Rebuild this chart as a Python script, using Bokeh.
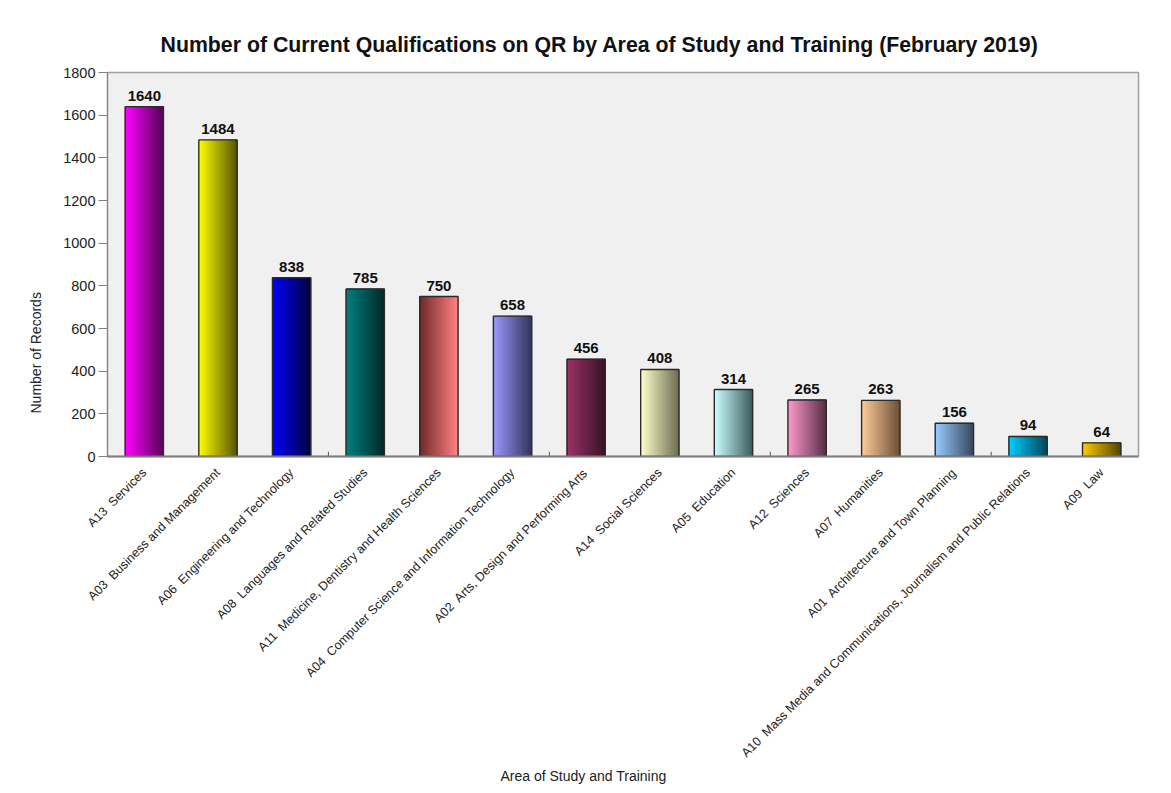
import numpy as np
from bokeh.plotting import figure
from bokeh.models import ColumnDataSource, FactorRange, Title
from bokeh.core.properties import value
from bokeh.embed import file_html
from bokeh.resources import INLINE

NB = "\u00a0"
categories = [
    "A13" + NB + " Services",
    "A03" + NB + " Business and Management",
    "A06" + NB + " Engineering and Technology",
    "A08" + NB + " Languages and Related Studies",
    "A11" + NB + " Medicine, Dentistry and Health Sciences",
    "A04" + NB + " Computer Science and Information Technology",
    "A02" + NB + " Arts, Design and Performing Arts",
    "A14" + NB + " Social Sciences",
    "A05" + NB + " Education",
    "A12" + NB + " Sciences",
    "A07" + NB + " Humanities",
    "A01" + NB + " Architecture and Town Planning",
    "A10" + NB + " Mass Media and Communications, Journalism and Public Relations",
    "A09" + NB + " Law",
]
counts = [1640, 1484, 838, 785, 750, 658, 456, 408, 314, 265, 263, 156, 94, 64]
colors_left = ["#ff00ff", "#ffff00", "#0000ff", "#008080", "#6e2a2a", "#9999ff", "#993366",
               "#ffffcc", "#ccffff", "#ff99cc", "#ffcc99", "#99ccff", "#00ccff", "#ffcc00"]
colors_right = ["#5a005a", "#5a5a00", "#000040", "#002a2a", "#ff8080", "#363660", "#3a1428",
                "#707055", "#406060", "#5a3048", "#705238", "#3a4a60", "#004a60", "#5a4800"]
y_ticks = [0, 200, 400, 600, 800, 1000, 1200, 1400, 1600, 1800]

FONT = "Liberation Sans"

p = figure(x_range=FactorRange(*categories, range_padding=0), y_range=(0, 1800),
           frame_width=1031, frame_height=384, output_backend="svg", toolbar_location=None,
           min_border_left=107, min_border_right=17, min_border_top=72, min_border_bottom=321)

p.background_fill_color = "#f0f0f0"
p.border_fill_color = "white"
p.outline_line_color = "#a0a0a0"
p.outline_line_width = 1.5
p.xgrid.visible = False
p.ygrid.visible = False

p.title.text = "Number of Current Qualifications on QR by Area of Study and Training (February 2019)"
p.title.text_font = FONT
p.title.text_font_size = "21.3px"
p.title.text_font_style = "bold"
p.title.align = "left"
p.title.offset = 53
p.title.standoff = 31
p.title.text_color = "#111111"

def hex2rgb(h):
    return np.array([int(h[i:i + 2], 16) for i in (1, 3, 5)], dtype=float)

def rgb2hex(c):
    return "#%02x%02x%02x" % tuple(int(round(v)) for v in c)

bar_w = 0.52
N = 30
xs, tops, fills, widths = [], [], [], []
for i, (cat, v) in enumerate(zip(categories, counts)):
    c0, c1 = hex2rgb(colors_left[i]), hex2rgb(colors_right[i])
    for j in range(N):
        t = j / (N - 1)
        xs.append(i + 0.5 - bar_w / 2 + (j + 0.5) * bar_w / N)
        tops.append(v)
        fills.append(rgb2hex(c0 * (1 - t) + c1 * t))
        widths.append(bar_w / N)

strip_src = ColumnDataSource(dict(x=xs, top=tops, color=fills, w=widths))
p.vbar(x="x", top="top", width="w", bottom=0, source=strip_src,
       fill_color="color", line_color="color", line_width=1)

src = ColumnDataSource(dict(cat=categories, count=counts, lab=[str(c) for c in counts]))
p.vbar(x="cat", top="count", width=bar_w, bottom=0, source=src,
       fill_alpha=0, line_color="#2a2a2a", line_width=1.4)
p.text(x="cat", y="count", text="lab", source=src, text_align="center",
       text_baseline="bottom", y_offset=-6, text_font=value(FONT),
       text_font_size="15px", text_font_style="bold", text_color="#111111")

# small category-group ticks on the x axis (every 3 categories)
tick_x = list(range(3, len(categories), 3))
p.segment(x0=tick_x, y0=[0] * len(tick_x), x1=tick_x, y1=[22] * len(tick_x),
          line_color="#555555", line_width=1)

# axes
p.yaxis.ticker = y_ticks
p.yaxis.major_label_text_font = FONT
p.yaxis.major_label_text_font_size = "14.5px"
p.yaxis.major_label_text_color = "#222222"
p.yaxis.axis_line_color = "#808080"
p.yaxis.major_tick_line_color = "#808080"
p.yaxis.major_tick_out = 9
p.yaxis.major_tick_in = 0
p.yaxis.minor_tick_line_color = None
p.yaxis.major_label_standoff = 3

p.xaxis.major_label_orientation = np.pi / 4
p.xaxis.major_label_text_font = FONT
p.xaxis.major_label_text_font_size = "12.5px"
p.xaxis.major_label_text_color = "#222222"
p.xaxis.axis_line_color = "#808080"
p.xaxis.axis_line_width = 2
p.xaxis.major_tick_line_color = None
p.xaxis.major_label_standoff = 8

ytitle = Title(text="Number of Records", align="left", offset=43, standoff=33,
               text_font=FONT, text_font_size="14px", text_font_style="normal",
               text_color="#222222")
p.add_layout(ytitle, "left")
xtitle = Title(text="Area of Study and Training", align="left", offset=393, standoff=0,
               vertical_align="top",
               text_font=FONT, text_font_size="14px", text_font_style="normal",
               text_color="#222222")
p.add_layout(xtitle, "below")

open("out.html", "w").write(file_html(p, INLINE))
